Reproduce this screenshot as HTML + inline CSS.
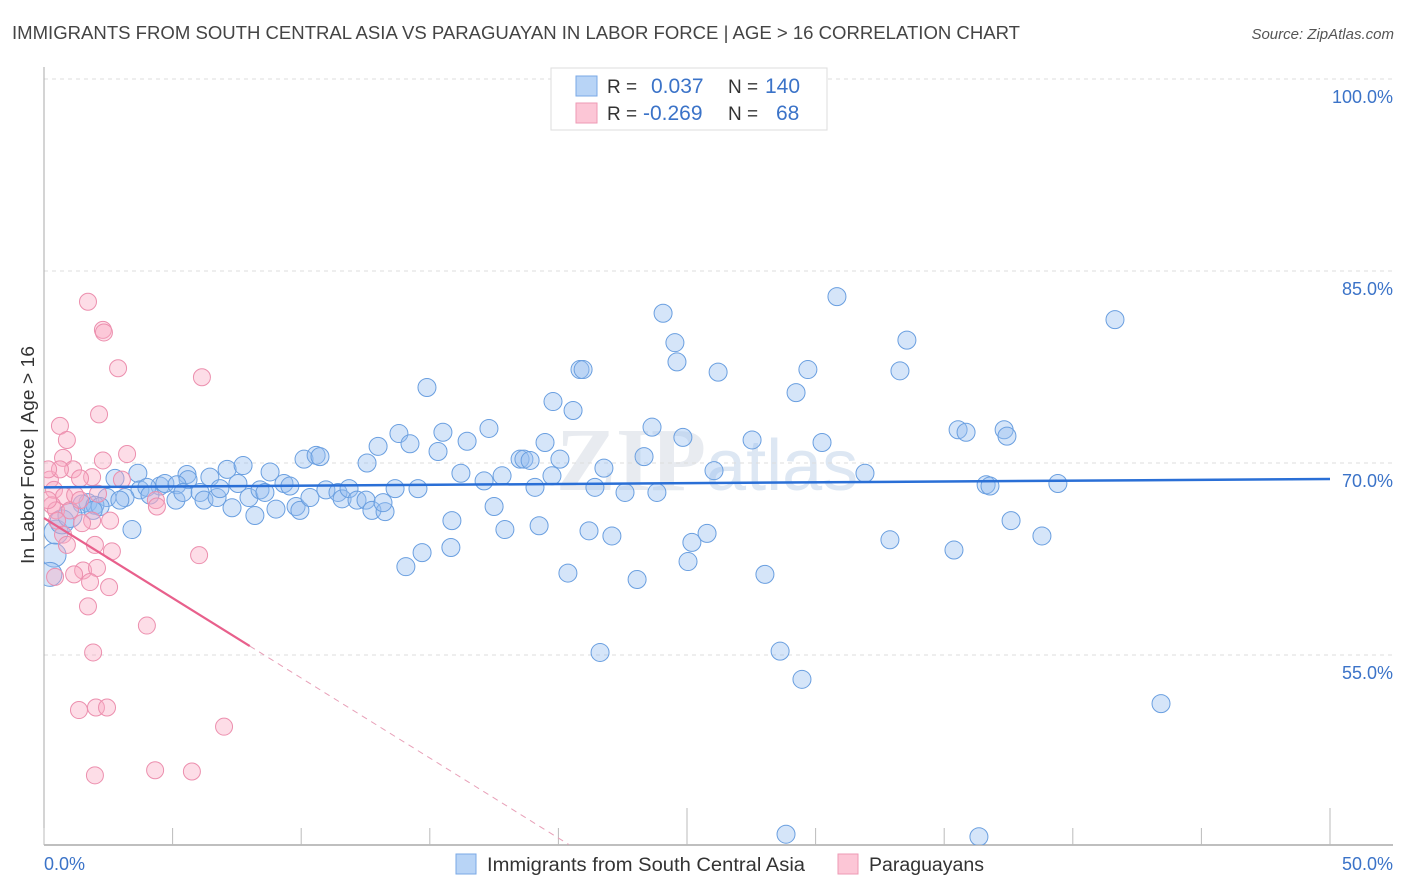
<!DOCTYPE html>
<html><head><meta charset="utf-8"><style>
body{margin:0;background:#fff;font-family:"Liberation Sans",sans-serif;}
#wrap{position:relative;width:1406px;height:892px;overflow:hidden;}
</style></head><body>
<div id="wrap">
<svg id="svg" width="1406" height="892" xmlns="http://www.w3.org/2000/svg">
<text x="12" y="39" font-size="18" fill="#444" textLength="1008" lengthAdjust="spacingAndGlyphs">IMMIGRANTS FROM SOUTH CENTRAL ASIA VS PARAGUAYAN IN LABOR FORCE | AGE &gt; 16 CORRELATION CHART</text>
<text x="1394" y="39" font-size="15" fill="#555" font-style="italic" text-anchor="end">Source: ZipAtlas.com</text>
<text x="34" y="455" font-size="18" fill="#333" text-anchor="middle" transform="rotate(-90 34 455)" textLength="218" lengthAdjust="spacingAndGlyphs">In Labor Force | Age &gt; 16</text>
<text x="556" y="490" font-size="90" fill="#e8ebf0" font-family="Liberation Serif,serif" font-weight="bold">ZIP<tspan font-family="Liberation Sans,sans-serif" font-weight="normal" font-size="72" fill="#dde7f3">atlas</tspan></text>
<g id="grid"></g>
<g id="axes"></g>
<clipPath id="clip"><rect x="44" y="60" width="1360" height="785"/></clipPath>
<g id="pts" clip-path="url(#clip)"></g>
<g id="trend"></g>
<g>
<rect x="551" y="68" width="276" height="62" fill="#fff" stroke="#ddd"/>
<rect x="576" y="76" width="21" height="20" fill="#b8d4f6" stroke="#7aa8e6"/>
<rect x="576" y="103" width="21" height="20" fill="#fcc6d6" stroke="#ee9ab4"/>
<text x="607" y="93" font-size="19" fill="#333">R = </text><text x="651" y="93" font-size="21" fill="#3b73c8">0.037</text>
<text x="728" y="93" font-size="19" fill="#333">N =</text><text x="765" y="93" font-size="21" fill="#3b73c8">140</text>
<text x="607" y="120" font-size="19" fill="#333">R = </text><text x="643" y="120" font-size="21" fill="#3b73c8">-0.269</text>
<text x="728" y="120" font-size="19" fill="#333">N =</text><text x="776" y="120" font-size="21" fill="#3b73c8">68</text>
</g>
<g>
<rect x="456" y="854" width="20" height="20" fill="#b8d4f6" stroke="#7aa8e6"/>
<text x="487" y="871" font-size="19" fill="#333" textLength="318" lengthAdjust="spacingAndGlyphs">Immigrants from South Central Asia</text>
<rect x="838" y="854" width="20" height="20" fill="#fcc6d6" stroke="#ee9ab4"/>
<text x="869" y="871" font-size="19" fill="#333" textLength="115" lengthAdjust="spacingAndGlyphs">Paraguayans</text>
</g>
</svg>
</div>
<script>
const blueX=[24.07,30.83,41.64,24.53,33.55,24.61,20.84,20.96,26.21,29.70,33.28,14.89,29.24,19.79,20.57,13.80,15.51,17.30,23.64,35.54,35.85,37.33,37.44,12.99,14.23,15.32,16.45,19.48,24.84,27.53,30.25,10.11,10.58,10.73,12.56,18.51,18.66,18.90,20.06,21.77,23.33,26.05,31.92,16.21,17.11,17.81,19.75,36.63,36.78,39.42,3.65,2.76,5.56,6.45,7.12,7.74,8.79,5.60,4.51,3.73,4.00,4.70,5.17,3.15,2.45,1.71,1.48,1.98,2.18,1.91,2.95,4.12,5.13,5.40,6.07,6.22,6.73,6.84,7.54,7.31,8.20,7.97,8.40,8.59,9.02,9.33,9.56,9.80,9.95,10.34,10.96,11.43,11.59,11.86,12.17,12.52,12.75,13.26,13.18,13.65,14.54,15.86,17.50,17.92,19.25,19.09,21.42,22.59,23.83,21.19,22.08,25.19,25.78,15.82,14.70,14.07,20.37,23.06,25.04,28.03,32.89,35.38,37.60,38.80,21.62,28.62,29.47,43.43,28.85,36.35,0.47,0.39,0.23,3.42,0.70,1.01];
const blueY=[81.7,83.0,81.2,79.4,79.6,77.9,77.3,77.3,77.1,77.3,77.2,75.9,75.5,74.8,74.1,72.3,72.4,72.7,72.8,72.6,72.4,72.6,72.1,71.3,71.5,70.9,71.7,71.6,72.0,71.8,71.6,70.3,70.6,70.5,70.0,70.3,70.3,70.2,70.3,69.6,70.5,69.4,69.2,69.2,68.6,69.0,69.0,68.3,68.2,68.4,69.2,68.8,69.1,68.9,69.5,69.8,69.3,68.7,68.2,67.9,68.1,68.4,68.3,67.3,67.3,66.9,66.8,66.7,66.6,66.3,67.1,67.5,67.1,67.7,67.7,67.1,67.3,68.0,68.4,66.5,65.9,67.3,67.9,67.7,66.4,68.4,68.2,66.6,66.3,67.3,67.9,67.7,67.2,68.0,67.1,67.1,66.3,66.2,66.9,68.0,68.0,65.5,66.6,64.8,65.1,68.1,68.1,67.7,67.7,64.7,64.3,63.8,64.5,63.4,63.0,61.9,61.4,60.9,62.3,61.3,64.0,63.2,65.5,64.3,55.2,55.3,53.1,51.2,41.0,40.8,64.6,62.8,61.3,64.8,65.4,65.9];
const pinkX=[1.71,2.29,2.33,2.88,6.14,2.14,0.62,0.89,0.74,2.29,3.23,1.13,1.87,1.40,0.23,0.39,0.78,0.31,1.21,2.10,0.47,1.01,1.87,0.51,0.74,1.48,0.89,1.98,2.64,6.03,1.52,2.06,1.17,0.43,1.79,2.53,1.71,4.00,1.91,1.36,2.02,2.45,7.00,1.98,4.32,5.75,4.35,4.39,2.57,3.03,1.40,0.62,0.16,0.16];
const pinkY=[82.6,80.4,80.2,77.4,76.7,73.8,72.9,71.8,70.4,70.2,70.7,69.5,68.9,68.8,68.7,67.9,67.4,66.7,67.5,67.6,66.3,66.3,65.5,65.5,64.4,65.3,63.6,63.6,63.1,62.8,61.6,61.8,61.3,61.1,60.7,60.3,58.8,57.3,55.2,50.7,50.9,50.9,49.4,45.6,46.0,45.9,67.1,66.6,65.5,68.7,67.1,69.5,69.5,67.1];
const blueTrend=[68.1,68.75];
const pinkTrendStart=[0,65.7], pinkTrendSolidEnd=[8.0,55.7], pinkTrendDashEnd=[20.4,40.2];
const yTicks=[100,85,70,55];
const yTickLabels=["100.0%","85.0%","70.0%","55.0%"];
const xEnds=[0,50];
const xEndLabels=["0.0%","50.0%"];
const NS="http://www.w3.org/2000/svg";
const sx=v=>44+v*25.72, sy=v=>79+(100-v)*12.8;
function mk(tag,a,parent){const e=document.createElementNS(NS,tag);for(const k in a)e.setAttribute(k,a[k]);document.getElementById(parent).appendChild(e);return e;}
yTicks.forEach((t,i)=>{
 const l=mk('line',{x1:44,x2:1393,y1:sy(t),y2:sy(t),stroke:'#ddd','stroke-dasharray':'4 4'},'grid');
 
 
 const tx=mk('text',{x:1393,y:sy(t)+24,'text-anchor':'end','font-size':18,fill:'#3b73c8'},'grid');
 tx.textContent=yTickLabels[i];
 
 
});
const ax=mk('line',{x1:44,x2:44,y1:67,y2:845,stroke:'#aaa'},'axes');


const bx=mk('line',{x1:44,x2:1393,y1:845,y2:845,stroke:'#aaa','stroke-width':1.5},'axes');


for(let i=0;i<=10;i++){const v=i*5;const tall=(i==5||i==10);
 const t=mk('line',{x1:sx(v),x2:sx(v),y1:tall?808:828,y2:845,stroke:'#bbb'},'axes');
 
 }
xEnds.forEach((v,i)=>{const t=mk('text',{x:i?1393:44,y:870,'text-anchor':i?'end':'start','font-size':18,fill:'#3b73c8'},'axes');
 t.textContent=xEndLabels[i];
 
 });
blueX.forEach((x,i)=>{const big=x<1.2&&blueY[i]<66;
 const c=mk('circle',{cx:sx(x),cy:sy(blueY[i]),r:big?12:9,fill:'rgba(150,190,240,0.4)',stroke:'#6a9fe0','stroke-width':1},'pts');
 
 });
pinkX.forEach((x,i)=>{
 const c=mk('circle',{cx:sx(x),cy:sy(pinkY[i]),r:8.5,fill:'rgba(250,170,195,0.4)',stroke:'#ec8fae','stroke-width':1},'pts');
 
 });
const bt=mk('line',{x1:sx(0),x2:sx(50),y1:sy(blueTrend[0]),y2:sy(blueTrend[1]),stroke:'#2a6fd6','stroke-width':2.5},'trend');


const pt=mk('line',{x1:sx(pinkTrendStart[0]),y1:sy(pinkTrendStart[1]),x2:sx(pinkTrendSolidEnd[0]),y2:sy(pinkTrendSolidEnd[1]),stroke:'#e8608c','stroke-width':2.2},'trend');


const pd=mk('line',{x1:sx(pinkTrendSolidEnd[0]),y1:sy(pinkTrendSolidEnd[1]),x2:sx(pinkTrendDashEnd[0]),y2:sy(pinkTrendDashEnd[1]),stroke:'#e8a0b8','stroke-width':1,'stroke-dasharray':'6 5'},'trend');


</script>
</body></html>
